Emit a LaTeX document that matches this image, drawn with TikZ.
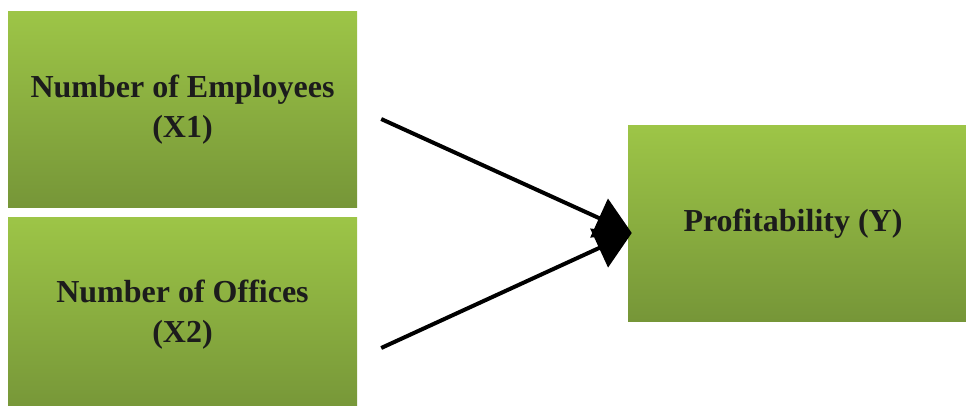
\documentclass[tikz,border=0pt]{standalone}
\usepackage{fontspec}
\setmainfont{Liberation Serif}
\usetikzlibrary{arrows.meta}
\definecolor{boxTop}{RGB}{157,197,71}
\definecolor{boxBottom}{RGB}{118,150,56}
\definecolor{boxText}{RGB}{28,28,28}

\begin{document}
\begin{tikzpicture} [
      factor/.style={rectangle, top color=boxTop, bottom color=boxBottom, text=boxText,
        align=center, inner sep=0pt, font=\bfseries\fontsize{32}{40}\selectfont},
      effect/.style={->, line width=4pt, -{Triangle[length=36pt, width=42pt]}}
   ]
    \useasboundingbox (0, 0) rectangle (966pt, 405pt);
    \node[factor, minimum width=349pt, minimum height=195pt] (ndEmployees) at (182.5pt, 295.5pt) {
      Number of Employees\\
      (X1)
    };
    \node[factor, minimum width=349pt, minimum height=195pt, below of=ndEmployees, node distance=205pt] (ndOffices) {
      Number of Offices\\
      (X2)
    };
    \node[factor, minimum width=338pt, minimum height=195pt, right of=ndEmployees, node distance=614.5pt, yshift=-114pt] (ndProfit) {
      Profitability (Y)
    };

    \coordinate (s1) at ([xshift=24pt, yshift=-9.5pt]ndEmployees.east);
    \coordinate (s2) at ([xshift=24pt, yshift=-33.5pt]ndOffices.east);
    \coordinate (t) at ([xshift=4pt, yshift=-9.5pt]ndProfit.west);
    \draw[effect] (s1) -- (t);
    \draw[effect] (s2) -- (t);

  \end{tikzpicture}
\end{document}
